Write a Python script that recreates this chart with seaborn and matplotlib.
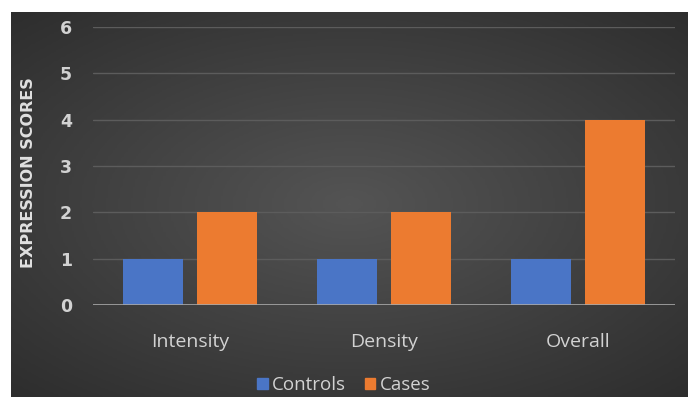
import numpy as np
import pandas as pd
import matplotlib
matplotlib.use("Agg")
import matplotlib.pyplot as plt
import seaborn as sns
from matplotlib.patches import Patch

categories = ["Intensity", "Density", "Overall"]
controls = [1, 1, 1]
cases = [2, 2, 4]
series_names = ["Controls", "Cases"]
y_ticks = [0, 1, 2, 3, 4, 5, 6]

df = pd.DataFrame({
    "category": categories * 2,
    "group": [series_names[0]] * 3 + [series_names[1]] * 3,
    "score": controls + cases,
})

sns.set_theme(style="white")
plt.rcParams["font.family"] = ["Open Sans", "DejaVu Sans"]

fig = plt.figure(figsize=(6.88, 3.97), dpi=100, facecolor="white")

# background panel with radial gradient
bg = fig.add_axes([0.016, 0.0, 0.984, 0.97], zorder=-1)
yy, xx = np.mgrid[-1:1:200j, -1:1:300j]
r = np.sqrt((xx * 0.85) ** 2 + (yy * 0.9) ** 2)
g = np.clip(1 - r / 1.45, 0, 1)
bg.imshow(g, cmap=matplotlib.colors.LinearSegmentedColormap.from_list("bg", ["#272727", "#545454"]),
          aspect="auto", extent=[0, 1, 0, 1], vmin=0, vmax=1)
bg.set_axis_off()

ax = fig.add_axes([0.135, 0.232, 0.846, 0.70])
ax.patch.set_alpha(0)
sns.barplot(data=df, x="category", y="score", hue="group", ax=ax,
            palette=["#4a75c6", "#ec7b30"], width=0.763, gap=0.19,
            saturation=1, edgecolor="none", legend=False)

ax.set_ylim(0, 6)
ax.set_yticks(y_ticks)
ax.set_xlim(-0.5, 2.5)
for y in y_ticks[1:]:
    ax.axhline(y, color="#5c5c5c", lw=1, zorder=0)
ax.axhline(0, color="#a8a8a8", lw=1.2, zorder=3)
for s in ax.spines.values():
    s.set_visible(False)

ax.tick_params(axis="y", length=0, pad=15, labelsize=12.5, labelcolor="#d2d2d2")
ax.tick_params(axis="x", length=0, pad=20, labelsize=14, labelcolor="#d2d2d2")
for t in ax.get_yticklabels():
    t.set_fontweight("bold")
    t.set_family(["Liberation Sans Narrow", "DejaVu Sans"])
ax.set_xlabel("")
ax.set_ylabel("EXPRESSION SCORES", color="#e0e0e0", fontsize=11.5, fontweight="bold",
              family=["Liberation Sans Narrow", "DejaVu Sans"])
ax.yaxis.set_label_coords(-0.098, 0.475)

handles = [Patch(color="#4a75c6"), Patch(color="#ec7b30")]
fig.legend(handles, series_names, loc="center", bbox_to_anchor=(0.5, 0.03),
           ncol=2, frameon=False, fontsize=13.5, labelcolor="#d2d2d2",
           handlelength=0.55, handleheight=0.55, handletextpad=0.25, columnspacing=1.0,
           borderpad=0.05)

fig.savefig("out.png", dpi=100, facecolor="white")
